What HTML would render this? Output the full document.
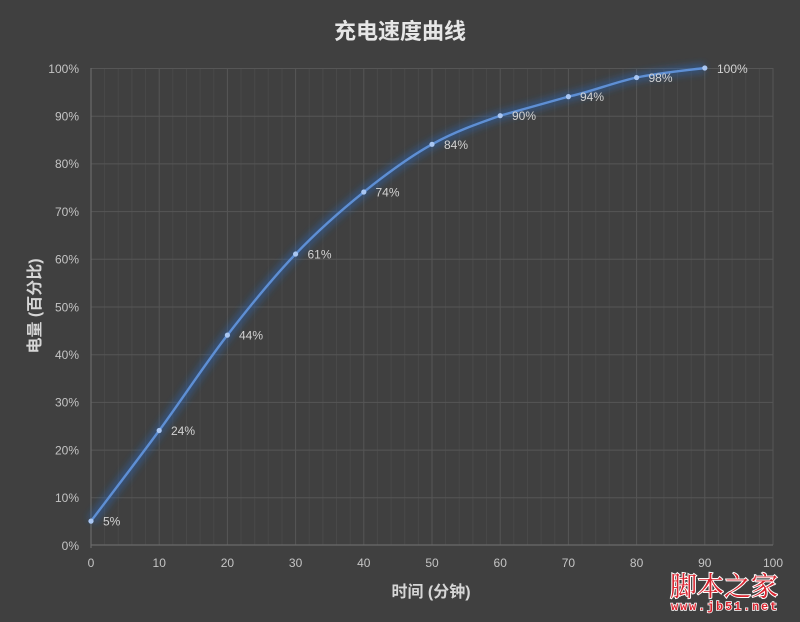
<!DOCTYPE html>
<html><head><meta charset="utf-8"><style>
html,body{margin:0;padding:0;background:#404040;}
svg{display:block;}
text{font-family:"Liberation Sans","Noto Sans CJK SC",sans-serif;}
</style></head><body>
<svg width="800" height="622" viewBox="0 0 800 622" xmlns="http://www.w3.org/2000/svg">
<defs>
<filter id="glow" x="-10%" y="-10%" width="120%" height="120%"><feGaussianBlur stdDeviation="3.5"/></filter>
</defs>
<rect width="800" height="622" fill="#404040"/>
<text x="400" y="39" text-anchor="middle" font-size="22" font-weight="bold" fill="#e6e6e6" style="font-family:'Noto Sans CJK SC',sans-serif">充电速度曲线</text>
<g stroke="#494949" stroke-width="1">
<path d="M104.6 68V545M118.3 68V545M131.9 68V545M145.6 68V545M172.8 68V545M186.5 68V545M200.1 68V545M213.8 68V545M241 68V545M254.7 68V545M268.3 68V545M282 68V545M309.2 68V545M322.9 68V545M336.5 68V545M350.2 68V545M377.4 68V545M391.1 68V545M404.7 68V545M418.4 68V545M445.6 68V545M459.3 68V545M472.9 68V545M486.6 68V545M513.8 68V545M527.5 68V545M541.1 68V545M554.8 68V545M582 68V545M595.7 68V545M609.3 68V545M623 68V545M650.2 68V545M663.9 68V545M677.5 68V545M691.2 68V545M718.4 68V545M732.1 68V545M745.7 68V545M759.4 68V545"/>
</g>
<g stroke="#565656" stroke-width="1">
<path d="M159.2 68V545M227.4 68V545M295.6 68V545M363.8 68V545M432 68V545M500.2 68V545M568.4 68V545M636.6 68V545M704.8 68V545M773 68V545"/>
<path d="M91 68.5H773M91 116.2H773M91 163.9H773M91 211.6H773M91 259.3H773M91 307H773M91 354.7H773M91 402.4H773M91 450.1H773M91 497.8H773"/>
</g>
<g stroke="#6a6a6a" stroke-width="1.2">
<path d="M91 68V548M91 545H773"/>
</g>
<g font-size="12" fill="#c4c4c4" text-anchor="end">
<text x="79" y="73">100%</text>
<text x="79" y="120.5">90%</text>
<text x="79" y="168.2">80%</text>
<text x="79" y="215.9">70%</text>
<text x="79" y="263.6">60%</text>
<text x="79" y="311.3">50%</text>
<text x="79" y="359">40%</text>
<text x="79" y="406.7">30%</text>
<text x="79" y="454.4">20%</text>
<text x="79" y="502.1">10%</text>
<text x="79" y="549.8">0%</text>
</g>
<g font-size="12" fill="#c4c4c4" text-anchor="middle">
<text x="91" y="567">0</text>
<text x="159.2" y="567">10</text>
<text x="227.4" y="567">20</text>
<text x="295.6" y="567">30</text>
<text x="363.8" y="567">40</text>
<text x="432" y="567">50</text>
<text x="500.2" y="567">60</text>
<text x="568.4" y="567">70</text>
<text x="636.6" y="567">80</text>
<text x="704.8" y="567">90</text>
<text x="773" y="567">100</text>
</g>
<text x="431" y="597" text-anchor="middle" font-size="16" font-weight="bold" fill="#d6d6d6">时间 (分钟)</text>
<text transform="translate(40 306) rotate(-90)" text-anchor="middle" font-size="16" font-weight="bold" fill="#d6d6d6">电量 (百分比)</text>
<path d="M91 521.15C102.37 506.04 136.47 461.53 159.2 430.52C181.93 399.51 204.67 364.54 227.4 335.12C250.13 305.7 272.87 277.88 295.6 254.03C318.33 230.18 341.07 210.31 363.8 192.02C386.53 173.73 409.27 157.04 432 144.32C454.73 131.6 477.47 123.65 500.2 115.7C522.93 109.34 545.67 102.98 568.4 96.62C591.13 91.85 613.87 82.31 636.6 77.54C659.33 72.77 693.43 69.59 704.8 68" fill="none" stroke="#2d63b0" stroke-width="10" stroke-opacity="0.5" filter="url(#glow)"/>
<path d="M91 521.15C102.37 506.04 136.47 461.53 159.2 430.52C181.93 399.51 204.67 364.54 227.4 335.12C250.13 305.7 272.87 277.88 295.6 254.03C318.33 230.18 341.07 210.31 363.8 192.02C386.53 173.73 409.27 157.04 432 144.32C454.73 131.6 477.47 123.65 500.2 115.7C522.93 109.34 545.67 102.98 568.4 96.62C591.13 91.85 613.87 82.31 636.6 77.54C659.33 72.77 693.43 69.59 704.8 68" fill="none" stroke="#5e8fd4" stroke-width="2.4"/>
<g fill="#a9c6f2">
<circle cx="91" cy="521.15" r="2.6"/>
<circle cx="159.2" cy="430.52" r="2.6"/>
<circle cx="227.4" cy="335.12" r="2.6"/>
<circle cx="295.6" cy="254.03" r="2.6"/>
<circle cx="363.8" cy="192.02" r="2.6"/>
<circle cx="432" cy="144.32" r="2.6"/>
<circle cx="500.2" cy="115.7" r="2.6"/>
<circle cx="568.4" cy="96.62" r="2.6"/>
<circle cx="636.6" cy="77.54" r="2.6"/>
<circle cx="704.8" cy="68" r="2.6"/>
</g>
<g font-size="12" fill="#d2d2d2">
<text x="103" y="525.5">5%</text>
<text x="171" y="435">24%</text>
<text x="239" y="339.5">44%</text>
<text x="307.5" y="258.5">61%</text>
<text x="375.5" y="196.5">74%</text>
<text x="444" y="149">84%</text>
<text x="512" y="120">90%</text>
<text x="580" y="101">94%</text>
<text x="648.5" y="82">98%</text>
<text x="717" y="73">100%</text>
</g>
<text x="724" y="596" text-anchor="middle" font-size="27" fill="#d8232e" stroke="#ffffff" stroke-width="2" paint-order="stroke" style="font-family:'Noto Serif CJK SC',serif">脚本之家</text>
<text x="725" y="610" text-anchor="middle" font-size="12" font-weight="bold" fill="#d8232e" stroke="#ffffff" stroke-width="1.5" paint-order="stroke" letter-spacing="1.8" style="font-family:'Liberation Mono',monospace">www.jb51.net</text>
</svg>
</body></html>
